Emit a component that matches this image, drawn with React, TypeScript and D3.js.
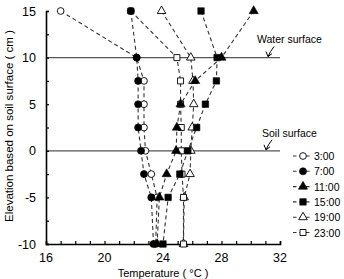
import { useRef, useEffect } from 'react';
import * as d3 from 'd3';

// depth in cm relative to soil surface
const elevations = [15, 10, 7.5, 5, 2.5, 0, -2.5, -5, -10];

const seriesNames = ['3:00', '7:00', '11:00', '15:00', '19:00', '23:00'];

// temperatures (°C) per elevation
const t0300 = [17.0, 22.2, 22.7, 22.7, 22.7, 22.8, 23.2, 23.6, 23.5];
const t0700 = [21.8, 22.2, 22.3, 22.3, 22.3, 22.5, 22.7, 23.2, 23.35];
const t1100 = [30.2, 28.0, 26.2, 25.2, 24.95, 24.9, 24.25, 23.75, 23.6];
const t1500 = [26.6, 27.7, 27.65, 26.9, 26.3, 25.7, 25.15, 24.35, 24.0];
const t1900 = [23.9, 25.9, 26.05, 26.1, 26.0, 25.9, 25.85, 25.45, 25.4];
const t2300 = [21.8, 24.95, 25.2, 25.2, 25.25, 25.25, 25.3, 25.4, 25.4];

const xTicks = [16, 20, 24, 28, 32];
const yTicks = [-10, -5, 0, 5, 10, 15];

export default function App() {
  const ref = useRef(null);

  useEffect(() => {
    const svg = d3.select(ref.current);
    svg.selectAll('*').remove();

    const font = 'Liberation Sans, Arial, sans-serif';

    const x = d3.scaleLinear().domain([16, 32]).range([46, 280]);
    const y = d3.scaleLinear().domain([-10, 15]).range([244, 11]);

    const all = [t0300, t0700, t1100, t1500, t1900, t2300];
    const shapes = [d3.symbolCircle, d3.symbolCircle, d3.symbolTriangle, d3.symbolSquare, d3.symbolTriangle, d3.symbolSquare];
    const filled = [false, true, true, true, false, false];
    const sizes = [36, 40, 36, 42, 32, 36];

    // reference lines for water and soil surface
    [10, 0].forEach(v => {
      svg.append('line')
        .attr('x1', x(16)).attr('x2', x(32))
        .attr('y1', y(v)).attr('y2', y(v))
        .attr('stroke', '#555').attr('stroke-width', 1.2);
    });

    // axes
    svg.append('g')
      .attr('transform', `translate(0,${y(-10)})`)
      .call(d3.axisBottom(x).tickValues(d3.range(16, 33, 1)).tickSize(-3).tickFormat(() => ''))
      .call(g => g.select('.domain').attr('stroke-width', 1.6))
      .call(g => g.selectAll('.tick line').attr('stroke-width', 1.2));

    svg.append('g')
      .attr('transform', `translate(${x(16)},0)`)
      .call(d3.axisLeft(y).tickValues(d3.range(-10, 15.1, 2.5)).tickSize(-3).tickFormat(() => ''))
      .call(g => g.select('.domain').attr('stroke-width', 1.6))
      .call(g => g.selectAll('.tick line').attr('stroke-width', 1.2));

    svg.append('g').selectAll('text')
      .data(xTicks).join('text')
      .attr('x', d => x(d)).attr('y', 262)
      .attr('text-anchor', 'middle')
      .attr('font-family', font).attr('font-size', 12.5)
      .text(d => d);

    svg.append('g').selectAll('text')
      .data(yTicks).join('text')
      .attr('x', 36).attr('y', d => y(d) + 4.5)
      .attr('text-anchor', 'end')
      .attr('font-family', font).attr('font-size', 12.5)
      .text(d => d);

    const line = d3.line()
      .x(d => x(d[0]))
      .y(d => y(d[1]));

    all.forEach(vals => {
      const pts = vals.map((t, j) => [t, elevations[j]]);
      svg.append('path')
        .datum(pts)
        .attr('fill', 'none')
        .attr('stroke', '#333')
        .attr('stroke-width', 1.1)
        .attr('stroke-dasharray', '4,3')
        .attr('d', line);
    });

    // open markers first, filled ones on top
    const order = [0, 4, 5, 1, 2, 3];
    order.forEach(i => {
      const sym = d3.symbol().type(shapes[i]).size(sizes[i]);
      svg.append('g').selectAll('path')
        .data(all[i].map((t, j) => [t, elevations[j]]))
        .join('path')
        .attr('transform', d => `translate(${x(d[0])},${y(d[1])})`)
        .attr('d', sym)
        .attr('fill', filled[i] ? '#000' : '#fff')
        .attr('stroke', '#000')
        .attr('stroke-width', filled[i] ? 0.6 : 0.9);
    });

    // legend
    const leg = svg.append('g');
    seriesNames.forEach((name, i) => {
      const ly = 156 + i * 15.3;
      leg.append('line')
        .attr('x1', 293).attr('x2', 312)
        .attr('y1', ly).attr('y2', ly)
        .attr('stroke', '#333').attr('stroke-width', 1.1)
        .attr('stroke-dasharray', '3.5,3');
      leg.append('path')
        .attr('transform', `translate(303,${ly})`)
        .attr('d', d3.symbol().type(shapes[i]).size(sizes[i])())
        .attr('fill', filled[i] ? '#000' : '#fff')
        .attr('stroke', '#000')
        .attr('stroke-width', filled[i] ? 0.6 : 0.9);
      leg.append('text')
        .attr('x', 314).attr('y', ly + 4)
        .attr('font-family', font).attr('font-size', 10.5)
        .text(name);
    });

    // annotations
    const notes = [
      { label: 'Water surface', lx: 257, ly: 43, ax: 268, ay: y(10) },
      { label: 'Soil surface', lx: 262, ly: 137, ax: 266, ay: y(0) }
    ];
    notes.forEach(n => {
      svg.append('text')
        .attr('x', n.lx).attr('y', n.ly)
        .attr('font-family', font).attr('font-size', 10.5)
        .text(n.label);
      svg.append('path')
        .attr('d', `M${n.ax + 6},${n.ay - 11} Q${n.ax + 2},${n.ay - 6} ${n.ax},${n.ay - 1}`)
        .attr('fill', 'none').attr('stroke', '#000').attr('stroke-width', 1);
      svg.append('path')
        .attr('d', `M${n.ax - 2},${n.ay - 6} L${n.ax},${n.ay - 1} L${n.ax + 4},${n.ay - 4}`)
        .attr('fill', 'none').attr('stroke', '#000').attr('stroke-width', 1);
    });

    // axis titles
    svg.append('text')
      .attr('x', 163).attr('y', 277)
      .attr('text-anchor', 'middle')
      .attr('font-family', font).attr('font-size', 11)
      .text('Temperature ( °C )');

    svg.append('text')
      .attr('transform', `translate(13,126) rotate(-90)`)
      .attr('text-anchor', 'middle')
      .attr('font-family', font).attr('font-size', 11)
      .attr('textLength', 192)
      .attr('lengthAdjust', 'spacingAndGlyphs')
      .text('Elevation based on soil surface ( cm )');
  }, []);

  return <svg ref={ref} width={344} height={279} style={{ position: 'absolute', left: 0, top: 0, background: '#fff' }}></svg>;
}
